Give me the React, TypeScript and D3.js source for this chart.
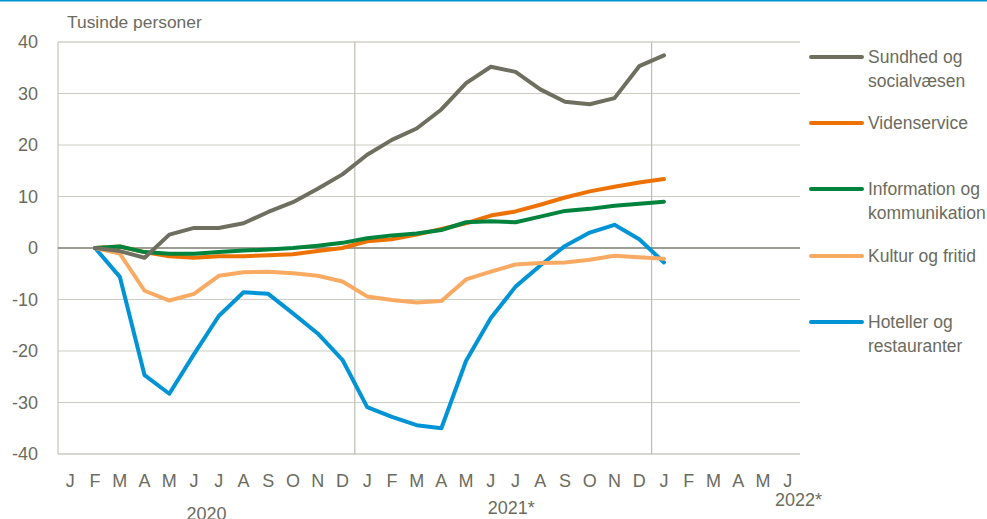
import React, { useEffect, useRef } from 'react';
import * as d3 from 'd3';

// månedsbogstaver, jan 2020 - jun 2022
const monthLabels = [
  'J', 'F', 'M', 'A', 'M', 'J', 'J', 'A', 'S', 'O', 'N', 'D',
  'J', 'F', 'M', 'A', 'M', 'J', 'J', 'A', 'S', 'O', 'N', 'D',
  'J', 'F', 'M', 'A', 'M', 'J',
];
const yearLabels = ['2020', '2021*', '2022*'];
const yTicks = [40, 30, 20, 10, 0, -10, -20, -30, -40];

// værdier fra feb 2020 til jan 2022 (24 måneder)
const firstIndex = 1;
const sundhed = [0, -0.6, -1.9, 2.6, 3.9, 3.9, 4.8, 7.0, 8.9, 11.5, 14.3, 18.1, 21.0, 23.2, 26.9, 32.0, 35.2, 34.2, 30.8, 28.4, 27.9, 29.1, 35.3, 37.4];
const videnservice = [0, 0.3, -0.8, -1.6, -1.9, -1.6, -1.6, -1.4, -1.2, -0.6, 0.0, 1.3, 1.7, 2.6, 3.7, 4.8, 6.3, 7.1, 8.4, 9.8, 11.0, 11.9, 12.7, 13.4];
const information = [0, 0.3, -0.8, -1.1, -1.1, -0.8, -0.5, -0.3, 0.0, 0.45, 1.0, 1.9, 2.45, 2.8, 3.5, 5.0, 5.2, 5.0, 6.1, 7.2, 7.6, 8.2, 8.6, 9.0];
const kultur = [0, -1.1, -8.3, -10.2, -8.9, -5.4, -4.7, -4.6, -4.9, -5.4, -6.5, -9.4, -10.1, -10.6, -10.3, -6.1, -4.6, -3.2, -2.9, -2.8, -2.3, -1.5, -1.8, -2.1];
const hoteller = [0, -5.6, -24.7, -28.3, -20.6, -13.2, -8.6, -8.9, -12.7, -16.6, -21.7, -30.9, -32.8, -34.4, -35.0, -21.9, -13.6, -7.5, -3.4, 0.4, 3.0, 4.5, 1.7, -2.8];

const seriesNames = [['Sundhed og', 'socialvæsen'], ['Videnservice'], ['Information og', 'kommunikation'], ['Kultur og fritid'], ['Hoteller og', 'restauranter']];
const seriesColors = ['#6f6f60', '#ee7203', '#00843d', '#f9aa62', '#0093d5'];
const legendY = [57, 123, 189, 256, 322];

const textColor = '#6b6b5e';
const font = '"Liberation Sans", Arial, sans-serif';

export default function App() {
  const ref = useRef<SVGSVGElement>(null);

  useEffect(() => {
    const svg = d3.select(ref.current);
    svg.selectAll('*').remove();

    const left = 58, right = 800, top = 42, bottom = 454;
    const x = d3.scaleBand<number>().domain(monthLabels.map((_, i) => i)).range([left, right]).padding(0);
    const y = d3.scaleLinear().domain([-40, 40]).range([bottom, top]);
    const cx = (i: number) => (x(i) as number) + x.bandwidth() / 2;

    // blå streg øverst
    svg.append('rect').attr('x', 0).attr('y', 0).attr('width', 987).attr('height', 1.5).attr('fill', '#0096d6');

    // vandrette gitterlinjer
    svg.append('g').selectAll('line')
      .data(yTicks.filter(t => t !== 0 && t !== -40))
      .join('line')
      .attr('x1', left).attr('x2', right)
      .attr('y1', d => y(d)).attr('y2', d => y(d))
      .attr('stroke', d => d === 40 ? '#b9b9ac' : '#cdcdc3')
      .attr('stroke-width', 1.2);

    // lodrette årsskel
    svg.append('g').selectAll('line')
      .data([12, 24])
      .join('line')
      .attr('x1', d => x(d) as number).attr('x2', d => x(d) as number)
      .attr('y1', top).attr('y2', bottom)
      .attr('stroke', '#bdbdb1').attr('stroke-width', 1.2);

    // akser
    svg.append('line').attr('x1', left).attr('x2', left).attr('y1', top).attr('y2', bottom)
      .attr('stroke', '#c6c6bb').attr('stroke-width', 1.2);
    svg.append('line').attr('x1', left).attr('x2', right).attr('y1', bottom).attr('y2', bottom)
      .attr('stroke', '#b0b0a3').attr('stroke-width', 1.2);
    svg.append('line').attr('x1', left).attr('x2', right).attr('y1', y(0)).attr('y2', y(0))
      .attr('stroke', '#7d7d70').attr('stroke-width', 1.6);

    // y-akse tal
    svg.append('g').selectAll('text')
      .data(yTicks)
      .join('text')
      .attr('x', 38).attr('y', d => y(d) + 6)
      .attr('text-anchor', 'end')
      .attr('font-family', font).attr('font-size', 18).attr('fill', textColor)
      .text(d => d);

    svg.append('text').attr('x', 67).attr('y', 28)
      .attr('font-family', font).attr('font-size', 17.4).attr('fill', textColor)
      .text('Tusinde personer');

    // måneder
    svg.append('g').selectAll('text')
      .data(monthLabels)
      .join('text')
      .attr('x', (_, i) => cx(i)).attr('y', 487)
      .attr('text-anchor', 'middle')
      .attr('font-family', font).attr('font-size', 18).attr('fill', textColor)
      .text(d => d);

    // år
    const yearPos = [
      { x: (cx(0) + cx(11)) / 2, y: 520, anchor: 'middle' },
      { x: (cx(12) + cx(23)) / 2 + 8, y: 514, anchor: 'middle' },
      { x: right + 22, y: 506, anchor: 'end' },
    ];
    svg.append('g').selectAll('text')
      .data(yearLabels)
      .join('text')
      .attr('x', (_, i) => yearPos[i].x).attr('y', (_, i) => yearPos[i].y)
      .attr('text-anchor', (_, i) => yearPos[i].anchor)
      .attr('font-family', font).attr('font-size', 18).attr('fill', textColor)
      .text(d => d);

    // serier
    const allSeries = [sundhed, videnservice, information, kultur, hoteller];
    const line = d3.line<number>().x((_, i) => cx(i + firstIndex)).y(d => y(d));
    const drawOrder = [4, 3, 1, 2, 0];
    svg.append('g').selectAll('path')
      .data(drawOrder)
      .join('path')
      .attr('d', k => line(allSeries[k]))
      .attr('fill', 'none')
      .attr('stroke', k => seriesColors[k])
      .attr('stroke-width', 4)
      .attr('stroke-linejoin', 'round')
      .attr('stroke-linecap', 'round');

    // forklaring
    const lg = svg.append('g').selectAll('g')
      .data(seriesNames)
      .join('g')
      .attr('transform', (_, i) => `translate(0,${legendY[i]})`);
    lg.append('line')
      .attr('x1', 811).attr('x2', 862).attr('y1', 0).attr('y2', 0)
      .attr('stroke', (_, i) => seriesColors[i]).attr('stroke-width', 4).attr('stroke-linecap', 'round');
    lg.each(function (names) {
      d3.select(this).selectAll('text.lbl')
        .data(names)
        .join('text')
        .attr('class', 'lbl')
        .attr('x', 868).attr('y', (_, j) => 6 + j * 24)
        .attr('font-family', font).attr('font-size', 17.5).attr('fill', textColor)
        .text(d => d);
    });
  }, []);

  return (
    <svg ref={ref} width={987} height={519}
      style={{ position: 'absolute', left: 0, top: 0, background: '#fff' }} />
  );
}
